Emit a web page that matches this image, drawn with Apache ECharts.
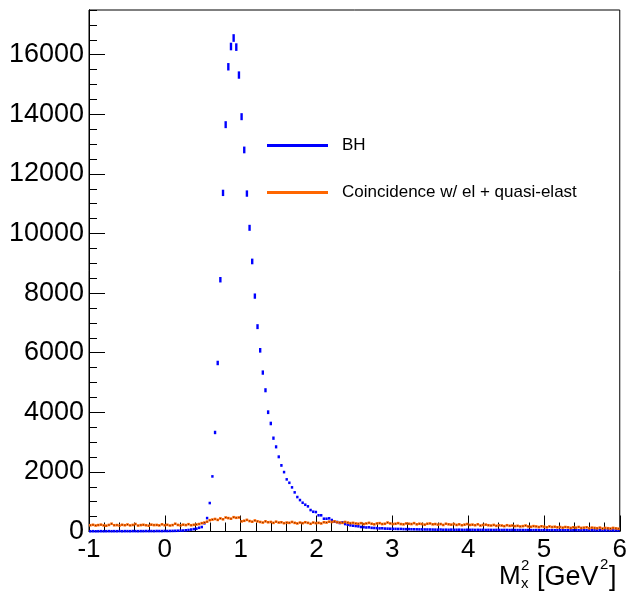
<!DOCTYPE html>
<html><head><meta charset="utf-8">
<script src="https://cdn.jsdelivr.net/npm/echarts@6/dist/echarts.min.js"></script>
<style>html,body{margin:0;padding:0;background:#fff}#c{width:630px;height:597px}</style>
</head><body><div id="c"></div><script>
// Histogram binning: 200 bins from -1 to 6
const X_MIN = -1, X_MAX = 6, BIN_WIDTH = 0.035;
const Y_MAX = 17500;
const seriesNames = ['BH', 'Coincidence w/ el + quasi-elast'];

// BH counts per bin
const bhCounts = [
  8, 10, 7, 9, 11, 8, 10, 12, 9, 11,
  10, 13, 9, 12, 11, 10, 14, 12, 11, 13,
  12, 15, 13, 14, 12, 16, 15, 14, 17, 16,
  18, 20, 22, 25, 28, 32, 40, 50, 65, 80,
  95, 125, 150, 275, 450, 955, 1849, 3323, 5655, 8449,
  11363, 13652, 15595, 16275, 16560, 16255, 15317, 13920, 12804, 11340,
  10191, 9062, 7899, 6874, 6080, 5333, 4740, 4003, 3625, 3132,
  2841, 2506, 2218, 1993, 1749, 1635, 1481, 1313, 1156, 1055,
  965, 898, 844, 720, 663, 653, 543, 543, 429, 429,
  442, 385, 328, 318, 285, 308, 251, 228, 208, 194,
  184, 174, 151, 145, 135, 140, 122, 118, 112, 105,
  108, 98, 95, 92, 90, 88, 85, 86, 80, 78,
  80, 75, 74, 72, 70, 72, 68, 67, 66, 64,
  62, 60, 65, 58, 60, 57, 62, 55, 58, 60,
  56, 54, 58, 55, 57, 52, 55, 53, 56, 50,
  54, 52, 50, 53, 51, 49, 52, 50, 48, 51,
  49, 47, 50, 48, 46, 49, 47, 45, 48, 46,
  44, 47, 45, 43, 46, 44, 42, 45, 43, 41,
  44, 42, 40, 43, 41, 39, 42, 40, 38, 41,
  39, 37, 40, 38, 36, 39, 37, 35, 38, 36
];

// Coincidence counts per bin
const coincCounts = [
  210, 225, 200, 215, 230, 205, 195, 220, 260, 210,
  215, 200, 225, 210, 235, 205, 220, 250, 200, 215,
  225, 210, 195, 230, 215, 220, 205, 240, 210, 225,
  200, 215, 260, 220, 205, 230, 215, 245, 210, 225,
  235, 250, 280, 300, 330, 380, 400, 420, 390, 440,
  410, 470, 450, 430, 480, 460, 470, 340, 360, 390,
  350, 330, 370, 340, 320, 300, 340, 310, 320, 290,
  330, 300, 310, 280, 300, 290, 320, 290, 270, 300,
  280, 310, 290, 260, 300, 280, 290, 270, 310, 300,
  330, 320, 340, 310, 300, 290, 320, 300, 280, 290,
  270, 260, 280, 250, 270, 290, 260, 240, 270, 280,
  250, 260, 300, 270, 250, 260, 280, 250, 240, 270,
  260, 250, 280, 240, 260, 250, 230, 260, 270, 240,
  250, 230, 250, 220, 260, 240, 230, 250, 220, 240,
  210, 230, 250, 220, 230, 210, 240, 200, 220, 230,
  210, 200, 220, 190, 210, 200, 180, 210, 190, 200,
  180, 190, 170, 180, 200, 170, 160, 180, 170, 150,
  175, 160, 140, 170, 150, 160, 140, 150, 130, 150,
  140, 120, 140, 130, 150, 120, 130, 140, 110, 130,
  120, 110, 130, 100, 120, 110, 100, 120, 105, 95
];

const toPoints = arr => arr.map((v, i) => [X_MIN + (i + 0.5) * BIN_WIDTH, v]);

function makeRender(color, widthFrac, minH, dotColor) {
  return function (params, api) {
    const x = api.value(0), v = api.value(1);
    const err = Math.sqrt(v);
    const c = api.coord([x, v]);
    const top = api.coord([x, v + err])[1];
    const bot = api.coord([x, Math.max(0, v - err)])[1];
    const l = api.coord([x - BIN_WIDTH / 2, v])[0];
    const r = api.coord([x + BIN_WIDTH / 2, v])[0];
    const bw = (r - l) * widthFrac;
    const h = Math.max(minH, bot - top);
    const children = [
      { type: 'rect', shape: { x: c[0] - bw / 2, y: c[1] - h / 2, width: bw, height: h }, style: { fill: color } }
    ];
    if (dotColor) {
      children.push({ type: 'rect', shape: { x: c[0] - 0.5, y: c[1] - 0.5, width: 1, height: 1 }, style: { fill: dotColor } });
    }
    return { type: 'group', children };
  };
}

const FONT = 'Liberation Sans, Arial, Helvetica, sans-serif';
const chart = echarts.init(document.getElementById('c'), null, { renderer: 'canvas' });
const axisCommon = {
  type: 'value', min: 0, max: Y_MAX, position: 'left', offset: 0,
  splitLine: { show: false },
  axisLine: { show: true, onZero: false, lineStyle: { color: '#000', width: 1 } }
};
chart.setOption({
  animation: false,
  grid: { left: 89, right: 8, top: 10, bottom: 65.5, show: true, borderColor: '#000', borderWidth: 1, containLabel: false },
  xAxis: {
    type: 'value', min: X_MIN, max: X_MAX, interval: 1,
    splitLine: { show: false },
    axisLine: { show: true, onZero: false, lineStyle: { color: '#000', width: 1 } },
    axisTick: { show: true, inside: true, length: 16, lineStyle: { color: '#000' } },
    minorTick: { show: true, splitNumber: 5, length: 9, lineStyle: { color: '#000' } },
    axisLabel: { fontSize: 26, color: '#000', fontFamily: FONT, margin: 5, formatter: v => String(v) }
  },
  yAxis: [
    Object.assign({}, axisCommon, {
      interval: 500,
      axisTick: { show: true, inside: true, length: 8, lineStyle: { color: '#000' } },
      axisLabel: { show: false }
    }),
    Object.assign({}, axisCommon, {
      interval: 2000,
      axisTick: { show: true, inside: true, length: 16, lineStyle: { color: '#000' } },
      axisLabel: { show: true, fontSize: 27, color: '#000', fontFamily: FONT, margin: 5, showMaxLabel: false, formatter: v => String(v) }
    })
  ],
  legend: {
    orient: 'vertical', left: 267, top: 137, padding: 0, itemWidth: 61, itemHeight: 3, itemGap: 30,
    icon: 'rect', data: seriesNames,
    textStyle: { fontSize: 17, color: '#000', fontFamily: FONT, padding: [0, 0, 0, 9] }
  },
  series: [
    { name: seriesNames[0], type: 'custom', xAxisIndex: 0, yAxisIndex: 1, itemStyle: { color: '#0000ff' },
      renderItem: makeRender('#0000ff', 0.9, 2.6, null), data: toPoints(bhCounts) },
    { name: seriesNames[1], type: 'custom', xAxisIndex: 0, yAxisIndex: 1, itemStyle: { color: '#ff6600' },
      renderItem: makeRender('#ff6600', 1.0, 2.6, '#6a2a00'), data: toPoints(coincCounts) }
  ],
  graphic: [
    { type: 'text', left: 499, top: 564, style: { text: 'M', font: '26px ' + FONT, fill: '#000' } },
    { type: 'text', left: 521, top: 558, style: { text: '2', font: '15px ' + FONT, fill: '#000' } },
    { type: 'text', left: 521, top: 576, style: { text: 'x', font: '15px ' + FONT, fill: '#000' } },
    { type: 'text', left: 537, top: 564, style: { text: '[GeV', font: '27px ' + FONT, fill: '#000' } },
    { type: 'text', left: 600, top: 557, style: { text: '2', font: '15px ' + FONT, fill: '#000' } },
    { type: 'text', left: 609, top: 564, style: { text: ']', font: '27px ' + FONT, fill: '#000' } }
  ]
});
</script></body></html>
